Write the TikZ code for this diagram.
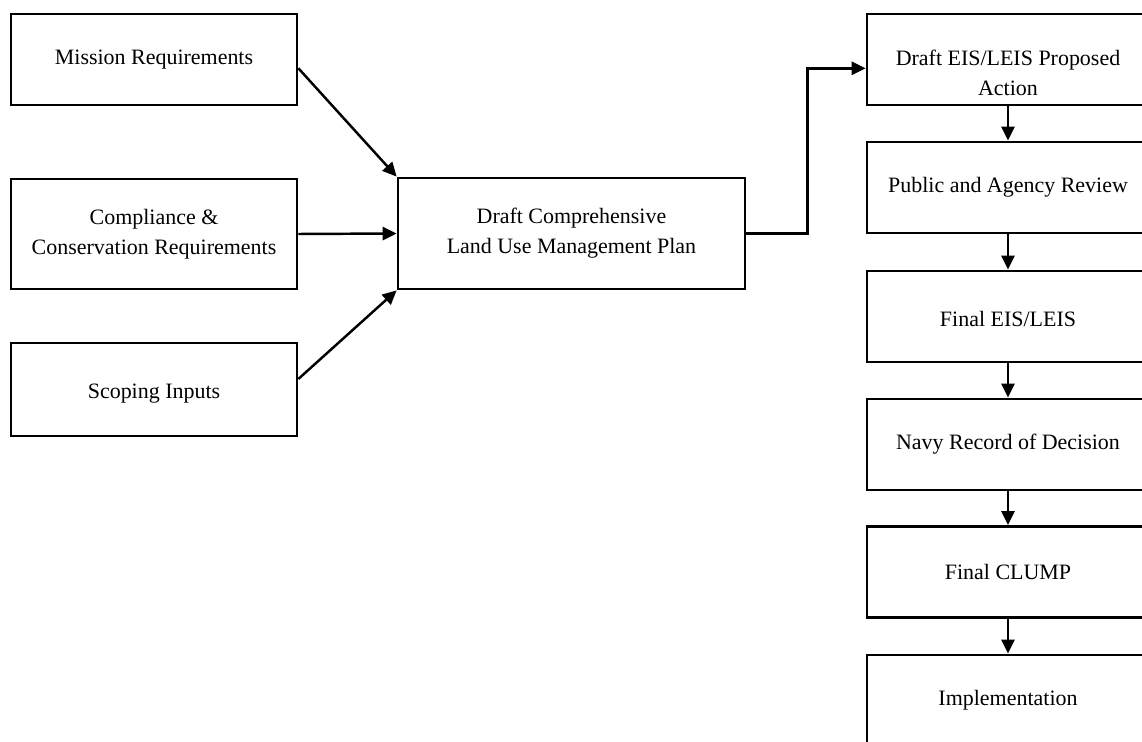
\documentclass[tikz,border=0pt]{standalone}
\usepackage{fontspec}
\setmainfont{Liberation Serif}
\usetikzlibrary{arrows.meta}

\tikzset{
    box/.style={draw, line width=1.6pt, align=center, inner sep=2pt,
        font=\fontsize{12.5}{17}\selectfont},
    leftbox/.style={box, minimum width=5.72cm},
    stage/.style={box, minimum width=5.64cm, minimum height=1.82cm},
    flow/.style={line width=1.4pt, -{Triangle[length=8pt,width=7.5pt]}},
}

\begin{document}
\begin{tikzpicture}[x=0.02cm, y=-0.02cm]
    \useasboundingbox (0,0) rectangle (1142,742);
    \clip (0,0) rectangle (1142,742);
    % Inputs
    \node[leftbox, minimum height=1.82cm] (mission) at (154,59.5) {Mission Requirements};
    \node[leftbox, minimum height=2.2cm] (compliance) at (154,234) {Compliance \&\\Conservation Requirements};
    \node[leftbox, minimum height=1.86cm, text height=13pt] (scoping) at (154,389.5) {Scoping Inputs};
    % Plan
    \node[box, minimum width=6.94cm, minimum height=2.22cm] (draft) at (571.5,233.5) {Draft Comprehensive\\Land Use Management Plan};
    \draw[flow] ([yshift=-5pt]mission.east) -- (draft.north west);
    \draw[flow] (compliance.east) -- (draft.west);
    \draw[flow] ([yshift=6pt]scoping.east) -- (draft.south west);
    % Review chain
    \node[stage, text height=41pt, text depth=0pt] (eis) at (1008,59.5) {Draft EIS/LEIS Proposed\\Action};
    \node[stage] (review) at (1008,187.5) {Public and Agency Review};
    \node[stage, text height=12pt] (final) at (1008,316.5) {Final EIS/LEIS};
    \node[stage] (rod) at (1008,444.5) {Navy Record of Decision};
    \node[stage] (clump) at (1008,572) {Final CLUMP};
    \node[stage] (impl) at (1008,700.5) {Implementation};
    \draw[flow] (draft.east) -- ++(61,0) |- ([yshift=-5pt]eis.west);
    \draw[flow] (eis) -- (review);
    \draw[flow] (review) -- (final);
    \draw[flow] (final) -- (rod);
    \draw[flow] (rod) -- (clump);
    \draw[flow] (clump) -- (impl);
\end{tikzpicture}
\end{document}
